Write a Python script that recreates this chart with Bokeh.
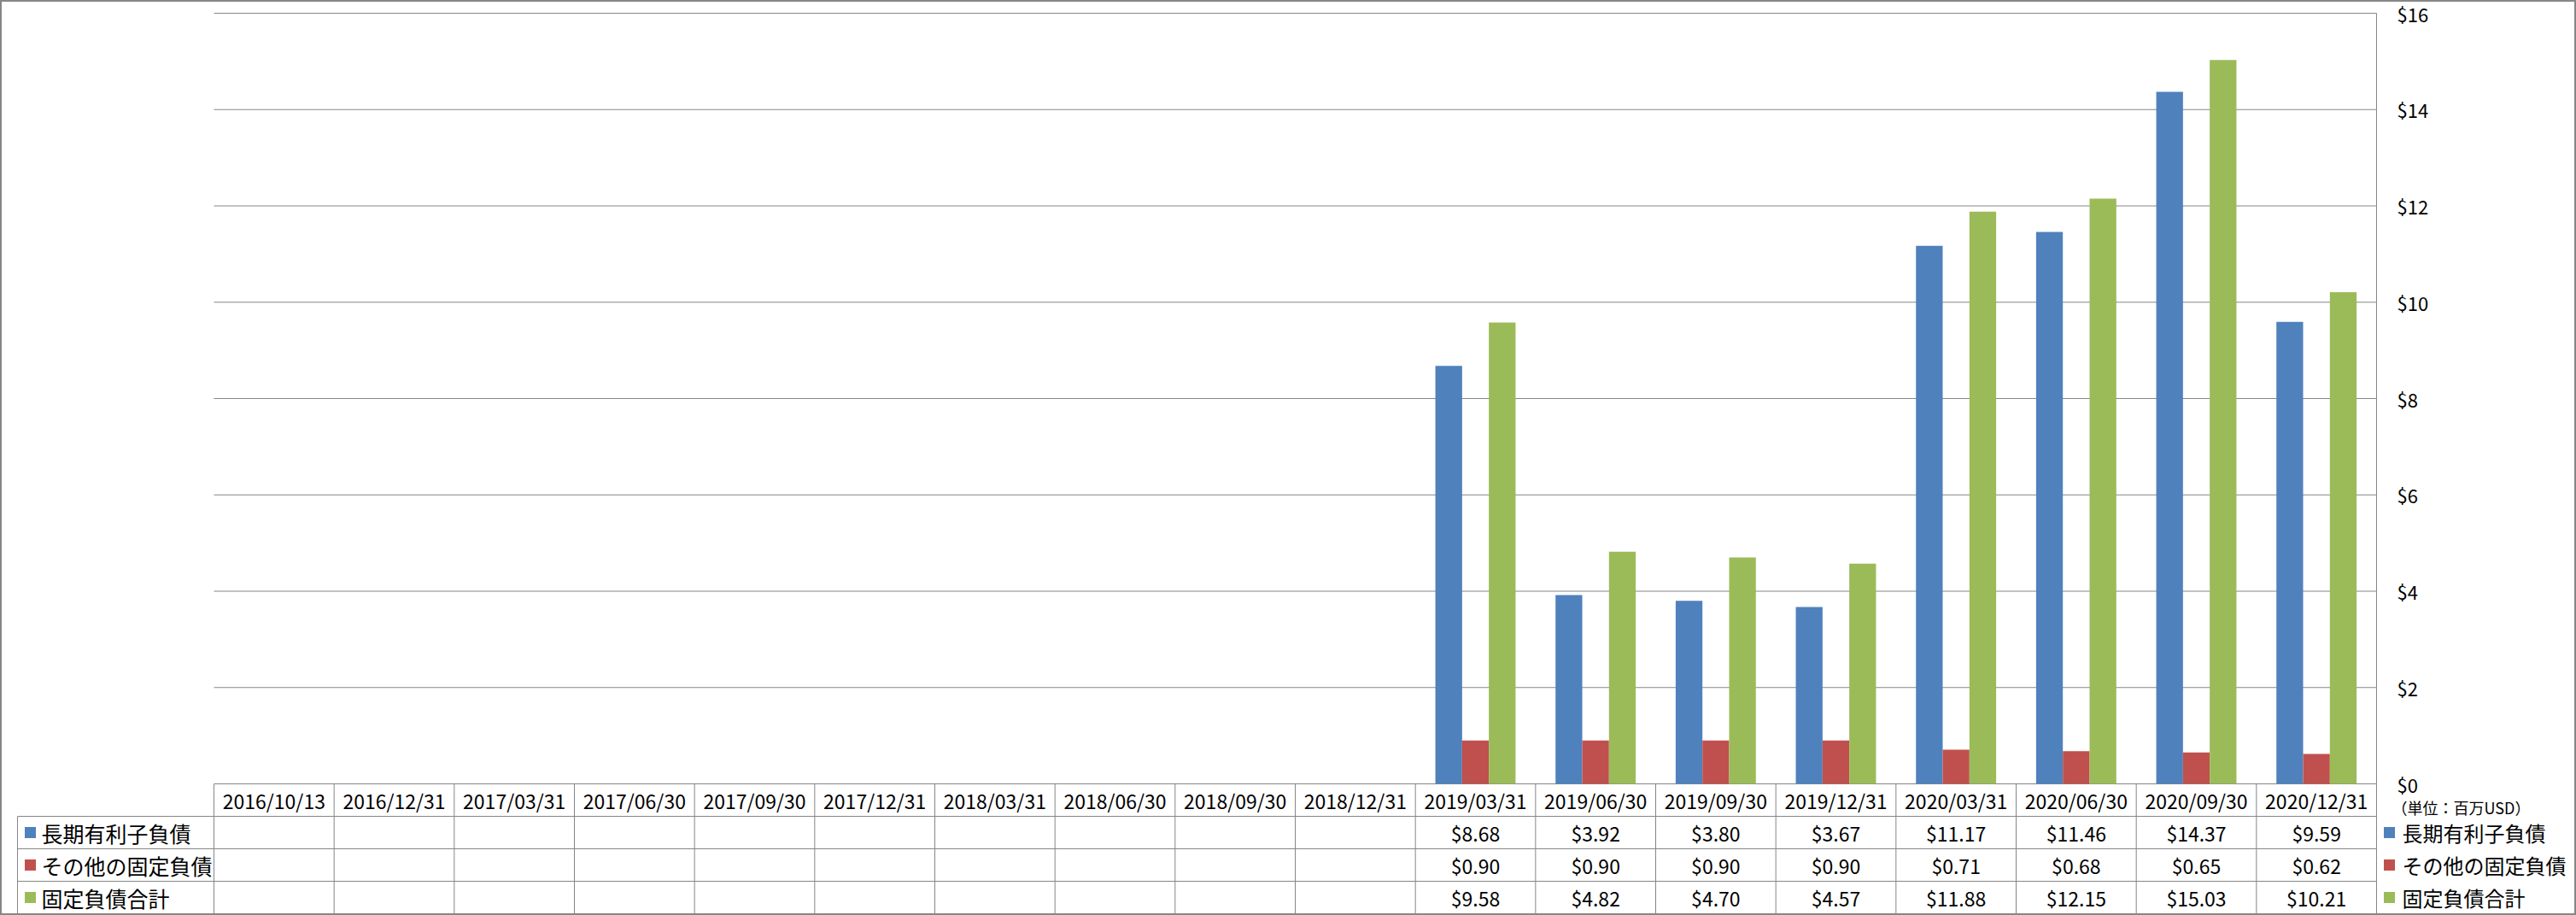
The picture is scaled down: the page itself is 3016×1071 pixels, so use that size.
from bokeh.plotting import figure
from bokeh.models import Range1d
from bokeh.core.properties import value
from bokeh.embed import file_html
from bokeh.resources import INLINE

# ---------------- data ----------------
categories = ["2016/10/13", "2016/12/31", "2017/03/31", "2017/06/30", "2017/09/30",
              "2017/12/31", "2018/03/31", "2018/06/30", "2018/09/30", "2018/12/31",
              "2019/03/31", "2019/06/30", "2019/09/30", "2019/12/31", "2020/03/31",
              "2020/06/30", "2020/09/30", "2020/12/31"]
long_term_debt = [None, None, None, None, None, None, None, None, None, None,
                  8.68, 3.92, 3.80, 3.67, 11.17, 11.46, 14.37, 9.59]
other_fixed_liab = [None, None, None, None, None, None, None, None, None, None,
                    0.90, 0.90, 0.90, 0.90, 0.71, 0.68, 0.65, 0.62]
total_fixed_liab = [None, None, None, None, None, None, None, None, None, None,
                    9.58, 4.82, 4.70, 4.57, 11.88, 12.15, 15.03, 10.21]
series_names = ["長期有利子負債", "その他の固定負債", "固定負債合計"]
series_colors = ["#4F81BD", "#C0504D", "#9BBB59"]
y_ticks = [0, 2, 4, 6, 8, 10, 12, 14, 16]
unit_label = "（単位：百万USD）"

series_values = [long_term_debt, other_fixed_liab, total_fixed_liab]

# ---------------- geometry (pixel -> data helpers) ----------------
W, H = 3016, 1071
X0_PX, COL_PX = 250.0, 140.667     # left edge of first category, px per category
Y0_PX, UNIT_PX = 917.0, 56.375     # pixel row of value 0, px per $1


def dx(px):
    return (px - X0_PX) / COL_PX


def dy(py):
    return (Y0_PX - py) / UNIT_PX


n = len(categories)
rh = 38.0 / UNIT_PX            # table row height in data units
FONT = value("Noto Sans CJK JP")
GRID = "#868686"

p = figure(width=W, height=H, x_range=Range1d(dx(0), dx(W)), y_range=Range1d(dy(H), dy(0)),
           output_backend="svg", toolbar_location=None, min_border=0,
           x_axis_location=None, y_axis_location=None)
p.xgrid.visible = False
p.ygrid.visible = False
p.background_fill_color = "white"
p.border_fill_color = "white"
p.outline_line_color = GRID
p.outline_line_width = 3

# gridlines
gx0 = [0] * (len(y_ticks))
gx1 = [n] * (len(y_ticks))
p.segment(x0=gx0, y0=y_ticks, x1=gx1, y1=y_ticks, line_color=GRID, line_width=1)

# right axis line + table right border
p.segment(x0=[n], y0=[y_ticks[-1]], x1=[n], y1=[-4 * rh], line_color=GRID, line_width=1)

# bars
bw = 0.2225
for k, (vals, color) in enumerate(zip(series_values, series_colors)):
    off = (k - 1) * bw
    xs = [i + 0.5 + off for i, v in enumerate(vals) if v is not None]
    tops = [v for v in vals if v is not None]
    p.vbar(x=xs, top=tops, bottom=0, width=bw, fill_color=color, line_color=None)

# ---------------- data table ----------------
# horizontal lines
left_x = dx(20)
p.segment(x0=[left_x] * 4, y0=[-k * rh for k in range(1, 5)],
          x1=[n] * 4, y1=[-k * rh for k in range(1, 5)], line_color=GRID, line_width=1)
# vertical lines
p.segment(x0=list(range(n)), y0=[0] * n, x1=list(range(n)), y1=[-4 * rh] * n,
          line_color=GRID, line_width=1)
p.segment(x0=[left_x], y0=[-rh], x1=[left_x], y1=[-4 * rh], line_color=GRID, line_width=1)

# header labels
p.text(x=[i + 0.5 for i in range(n)], y=[-0.5 * rh] * n, text=categories,
       text_font=FONT, text_font_size="23px", text_align="center",
       text_baseline="middle", text_color="black")

# values
for k, vals in enumerate(series_values):
    xs = [i + 0.5 for i, v in enumerate(vals) if v is not None]
    txt = ["$%.2f" % v for v in vals if v is not None]
    p.text(x=xs, y=[-(k + 1.5) * rh] * len(xs), text=txt, text_font=FONT,
           text_font_size="23px", text_align="center", text_baseline="middle",
           text_color="black")

# row labels (left legend column)
row_y = [-(k + 1.5) * rh for k in range(3)]
p.scatter(x=[dx(35)] * 3, y=row_y, marker="square", size=13, fill_color=series_colors,
          line_color=None)
p.text(x=[dx(48)] * 3, y=row_y, text=series_names, text_font=FONT, text_font_size="25px",
       text_align="left", text_baseline="middle", text_color="black")

# y tick labels (right)
p.text(x=[dx(2806)] * len(y_ticks), y=y_ticks, text=["$%d" % t for t in y_ticks],
       text_font=FONT, text_font_size="22px", text_align="left", text_baseline="middle",
       text_color="black")

# unit label
p.text(x=[dx(2800)], y=[dy(944)], text=[unit_label], text_font=FONT, text_font_size="18px",
       text_align="left", text_baseline="middle", text_color="black")

# right legend
p.scatter(x=[dx(2797)] * 3, y=row_y, marker="square", size=13, fill_color=series_colors,
          line_color=None)
p.text(x=[dx(2812)] * 3, y=row_y, text=series_names, text_font=FONT, text_font_size="24px",
       text_align="left", text_baseline="middle", text_color="black")

open("out.html", "w").write(file_html(p, INLINE))
